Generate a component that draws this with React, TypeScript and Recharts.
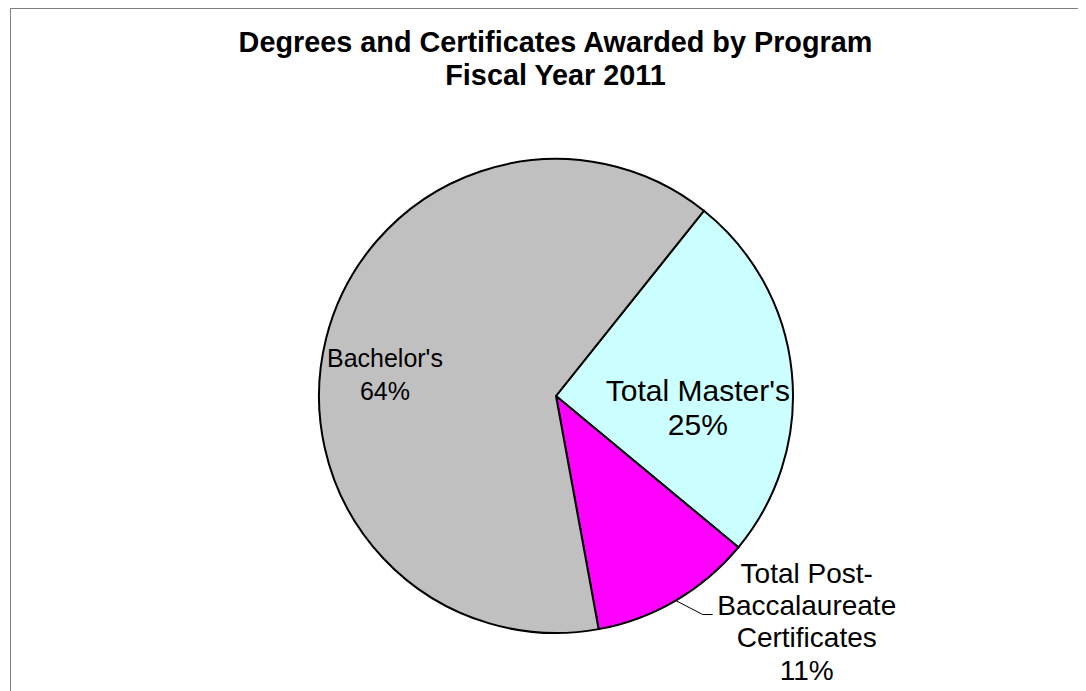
import React from 'react';
import { PieChart, Pie, Cell } from 'recharts';

// slices go clockwise from the top-right boundary, in Excel order
const programs = ["Total Master's", 'Total Post-Baccalaureate Certificates', "Bachelor's"];
const shares = [25.3, 11.1, 63.6];
const sliceColors = ['#CCFFFF', '#FF00FF', '#C0C0C0'];
const labelRows = [["Total Master's"], ['Total Post-', 'Baccalaureate', 'Certificates'], ["Bachelor's"]];

const data = programs.map((name, i) => ({ name, value: shares[i] }));

const FONT = '"Liberation Sans", Arial, sans-serif';

// where each label sits relative to its slice (fraction of radius, tweaks)
const labelLayout = [
  { inside: true, f: 0.606, dx: -1, dy: 20, size: 30, step: 34 },
  { inside: false, f: 1, dx: 131, dy: -18, size: 28, step: 32.4 },
  { inside: true, f: 0.753, dx: 2, dy: 15, size: 25, step: 33 },
];

const RADIAN = Math.PI / 180;

const renderLabel = (props: any) => {
  const { cx, cy, midAngle, outerRadius, percent, index } = props;
  const lay = labelLayout[index];
  const rows = [...labelRows[index], `${Math.round(percent * 100)}%`];
  const r = outerRadius * lay.f;
  const px = cx + r * Math.cos(-midAngle * RADIAN);
  const py = cy + r * Math.sin(-midAngle * RADIAN);
  const tx = px + lay.dx;
  const ty = py + lay.dy;

  return (
    <g>
      {!lay.inside && (
        <polyline
          points={`${px},${py} ${px + 27},${py + 14} ${px + 37},${py + 14}`}
          fill="none"
          stroke="#000"
          strokeWidth={1}
        />
      )}
      <text x={tx} y={ty} textAnchor="middle" fontFamily={FONT} fontSize={lay.size} fill="#000">
        {rows.map((row, i) => (
          <tspan key={i} x={tx} y={ty + i * lay.step}>
            {row}
          </tspan>
        ))}
      </text>
    </g>
  );
};

export default function App() {
  return (
    <div
      style={{
        position: 'relative',
        marginLeft: 2,
        width: 1076,
        height: 683,
        borderTop: '1px solid #808080',
        borderLeft: '1px solid #808080',
        overflow: 'hidden',
        background: '#fff',
      }}
    >
      <div
        style={{
          position: 'absolute',
          left: 544.5,
          top: 17,
          transform: 'translateX(-50%)',
          whiteSpace: 'nowrap',
          textAlign: 'center',
          fontFamily: FONT,
          fontWeight: 'bold',
          fontSize: 28.8,
          lineHeight: '33px',
          color: '#000',
        }}
      >
        Degrees and Certificates Awarded by Program
        <br />
        Fiscal Year 2011
      </div>
      <PieChart width={1075} height={682}>
        <Pie
          data={data}
          dataKey="value"
          nameKey="name"
          cx={540}
          cy={382}
          outerRadius={237}
          startAngle={51.4}
          endAngle={-308.6}
          stroke="#000"
          strokeWidth={2}
          label={renderLabel}
          labelLine={false}
          isAnimationActive={false}
        >
          {data.map((d, i) => (
            <Cell key={d.name} fill={sliceColors[i]} />
          ))}
        </Pie>
      </PieChart>
    </div>
  );
}
